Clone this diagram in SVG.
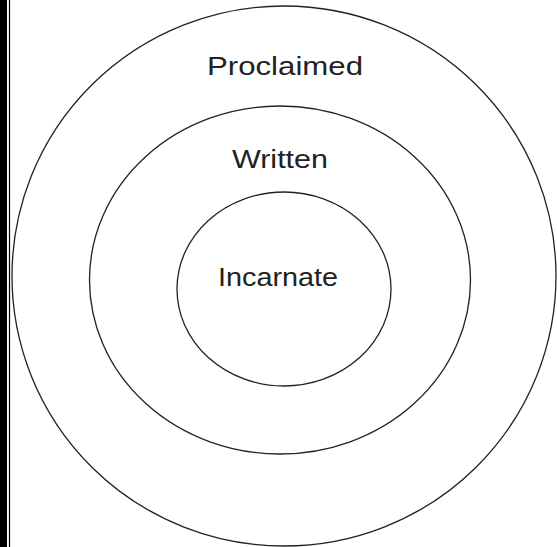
<svg xmlns="http://www.w3.org/2000/svg" width="557" height="547" viewBox="0 0 557 547">
<style>
.ring{fill:none;stroke:#222;stroke-width:1.3}
.lbl{font-family:"Liberation Sans",Arial,sans-serif;font-size:25px;fill:#222;text-anchor:middle}
</style>
<rect x="0" y="0" width="557" height="547" fill="#fff"/>
<rect x="0" y="0" width="7" height="547" fill="#000"/>
<line x1="9.5" y1="0" x2="9.5" y2="547" stroke="#000" stroke-width="1.2"/>
<g id="proclaimed">
<ellipse class="ring" cx="284" cy="276" rx="272" ry="270"/>
<text class="lbl" x="285" y="75" textLength="156" lengthAdjust="spacingAndGlyphs">Proclaimed</text>
</g>
<g id="written">
<ellipse class="ring" cx="280" cy="280" rx="190.5" ry="174"/>
<text class="lbl" x="280" y="168" textLength="96" lengthAdjust="spacingAndGlyphs">Written</text>
</g>
<g id="incarnate">
<ellipse class="ring" cx="284" cy="289" rx="107" ry="97"/>
<text class="lbl" x="278" y="286" textLength="120" lengthAdjust="spacingAndGlyphs">Incarnate</text>
</g>
<g id="connectors"/>
</svg>
